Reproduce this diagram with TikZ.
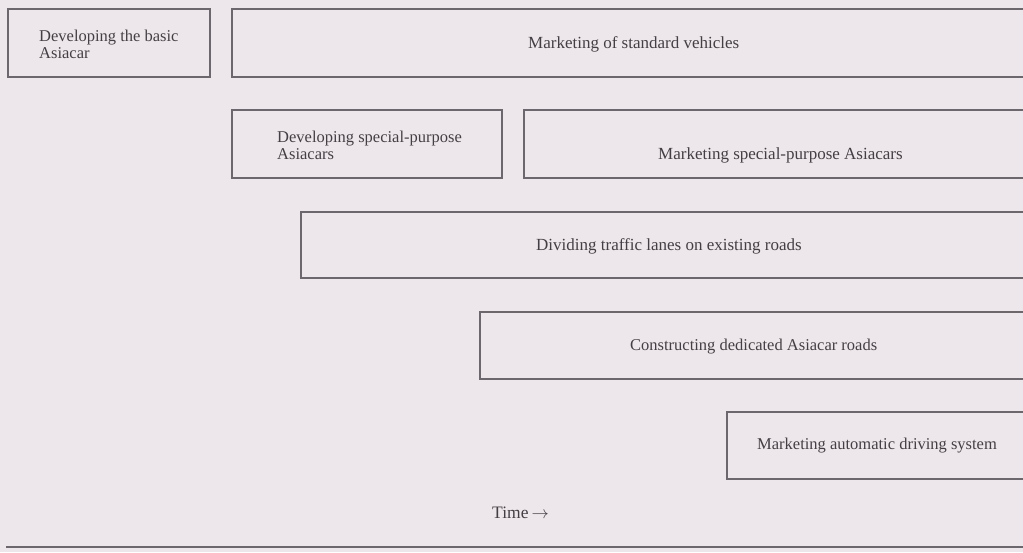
\documentclass[tikz,border=0pt]{standalone}
\usepackage{fontspec}
\setmainfont{Liberation Serif}
\definecolor{paper}{RGB}{237,231,235}
\definecolor{linegray}{RGB}{108,103,108}
\definecolor{inkgray}{RGB}{68,63,68}
\begin{document}
\begin{tikzpicture}[x=1pt,y=-1pt,
  frame/.style={rectangle, draw=linegray, line width=1.2pt, inner sep=0pt, outer sep=0pt, anchor=north west},
  openframe/.style={rectangle, draw=none, inner sep=0pt, outer sep=0pt, anchor=north west},
  lbl/.style={text=inkgray, inner sep=0pt, anchor=west, align=left,
    font=\fontsize{16.5}{17.5}\selectfont},
  biglbl/.style={lbl, font=\fontsize{17}{18}\selectfont},
  rule/.style={draw=linegray, line width=1.2pt}]
% page
\fill[paper] (0,0) rectangle (1023,552);
\useasboundingbox (0,0) rectangle (1023,552);

% frames of the activity bars
\node[frame, minimum width=202pt, minimum height=68pt] (f1) at (8,9) {};
\node[openframe, minimum width=791pt, minimum height=68pt] (f2) at (232,9) {};
\node[frame, minimum width=270pt, minimum height=68pt] (f3) at (232,110) {};
\node[openframe, minimum width=499pt, minimum height=68pt] (f4) at (524,110) {};
\node[openframe, minimum width=722pt, minimum height=66pt] (f5) at (301,212) {};
\node[openframe, minimum width=543pt, minimum height=67pt] (f6) at (480,312) {};
\node[openframe, minimum width=296pt, minimum height=67pt] (f7) at (727,412) {};

% bars that continue past the right edge: no closing side
\foreach \f in {f2,f4,f5,f6,f7}
  \draw[rule] (\f.north east) -- (\f.north west) -- (\f.south west) -- (\f.south east);

% labels
\node[lbl] (t1) at (39,44.5) {Developing the basic\\Asiacar};
\node[biglbl] (t2) at (528,44) {Marketing of standard vehicles};
\node[lbl] (t3) at (277,145.5) {Developing special-purpose\\Asiacars};
\node[biglbl] (t4) at (658,155) {Marketing special-purpose Asiacars};
\node[biglbl] (t5) at (536,246) {Dividing traffic lanes on existing roads};
\node[lbl] (t6) at (630,347) {Constructing dedicated Asiacar roads};
\node[lbl] (t7) at (757,446) {Marketing automatic driving system};
\node[lbl, font=\fontsize{17.5}{18}\selectfont] (time) at (492,513) {Time\hspace{3pt}$\rightarrow$};

% time axis rule
\coordinate (ruleL) at (6,547);
\coordinate (ruleR) at (1023,547);
\draw[rule] (ruleL) -- (ruleR);
\end{tikzpicture}
\end{document}
